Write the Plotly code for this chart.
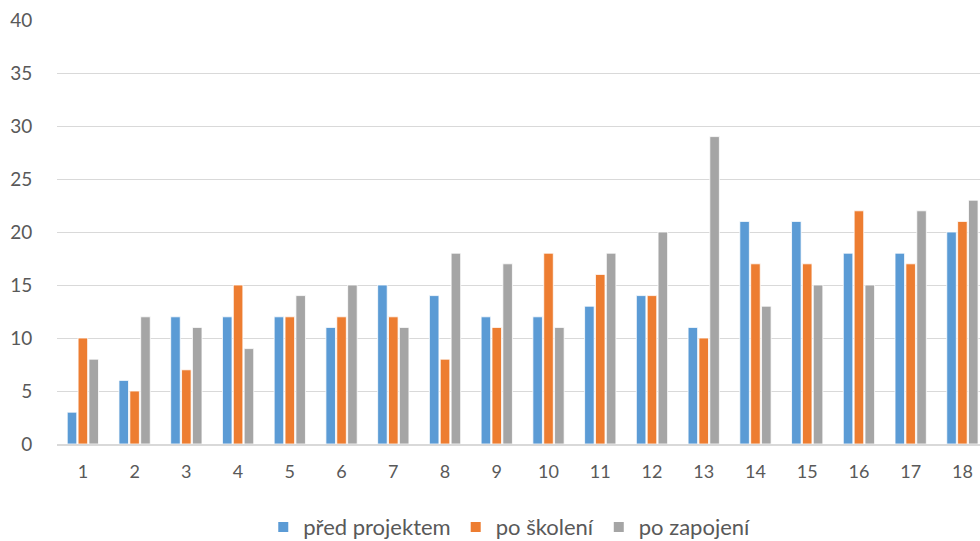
import plotly.graph_objects as go

# Respondent numbers 1-18 and the three measured series
categories = list(range(1, 19))
pred_projektem = [3, 6, 12, 12, 12, 11, 15, 14, 12, 12, 13, 14, 11, 21, 21, 18, 18, 20]
po_skoleni = [10, 5, 7, 15, 12, 12, 12, 8, 11, 18, 16, 14, 10, 17, 17, 22, 17, 21]
po_zapojeni = [8, 12, 11, 9, 14, 15, 11, 18, 17, 11, 18, 20, 29, 13, 15, 15, 22, 23]

series = [
    ("před projektem", pred_projektem, "#5B9BD5"),
    ("po školení", po_skoleni, "#ED7D31"),
    ("po zapojení", po_zapojeni, "#A5A5A5"),
]

font_family = "Lato, 'Open Sans', sans-serif"
text_color = "#595959"

fig = go.Figure()
for name, values, color in series:
    fig.add_trace(go.Bar(
        x=categories,
        y=values,
        name=name,
        marker=dict(color=color, line=dict(color="white", width=0.8)),
    ))

fig.update_layout(
    width=980,
    height=541,
    margin=dict(l=57, r=0, t=20, b=97, autoexpand=False),
    paper_bgcolor="white",
    plot_bgcolor="white",
    barmode="group",
    bargap=0.37,
    bargroupgap=0.12,
    font=dict(family=font_family, size=17, color=text_color),
    showlegend=True,
    legend=dict(
        orientation="h",
        x=0.49,
        xanchor="center",
        y=-0.196,
        yanchor="middle",
        font=dict(size=22, color=text_color),
        itemsizing="constant",
        traceorder="normal",
        itemwidth=30,
    ),
    xaxis=dict(
        range=[0.5, 18.34],
        tickmode="array",
        tickvals=categories,
        ticktext=[str(c) for c in categories],
        showgrid=False,
        zeroline=False,
        showline=True,
        linecolor="#d9d9d9",
        linewidth=1.5,
        ticks="outside",
        ticklen=11,
        tickcolor="rgba(0,0,0,0)",
        tickfont=dict(size=18, color=text_color),
        fixedrange=True,
    ),
    yaxis=dict(
        range=[0, 40],
        dtick=5,
        showgrid=True,
        gridcolor="#d9d9d9",
        gridwidth=1,
        zeroline=False,
        showline=False,
        ticks="outside",
        ticklen=20,
        tickcolor="rgba(0,0,0,0)",
        tickfont=dict(size=19, color=text_color),
        fixedrange=True,
    ),
)

fig.write_html("out.html")
